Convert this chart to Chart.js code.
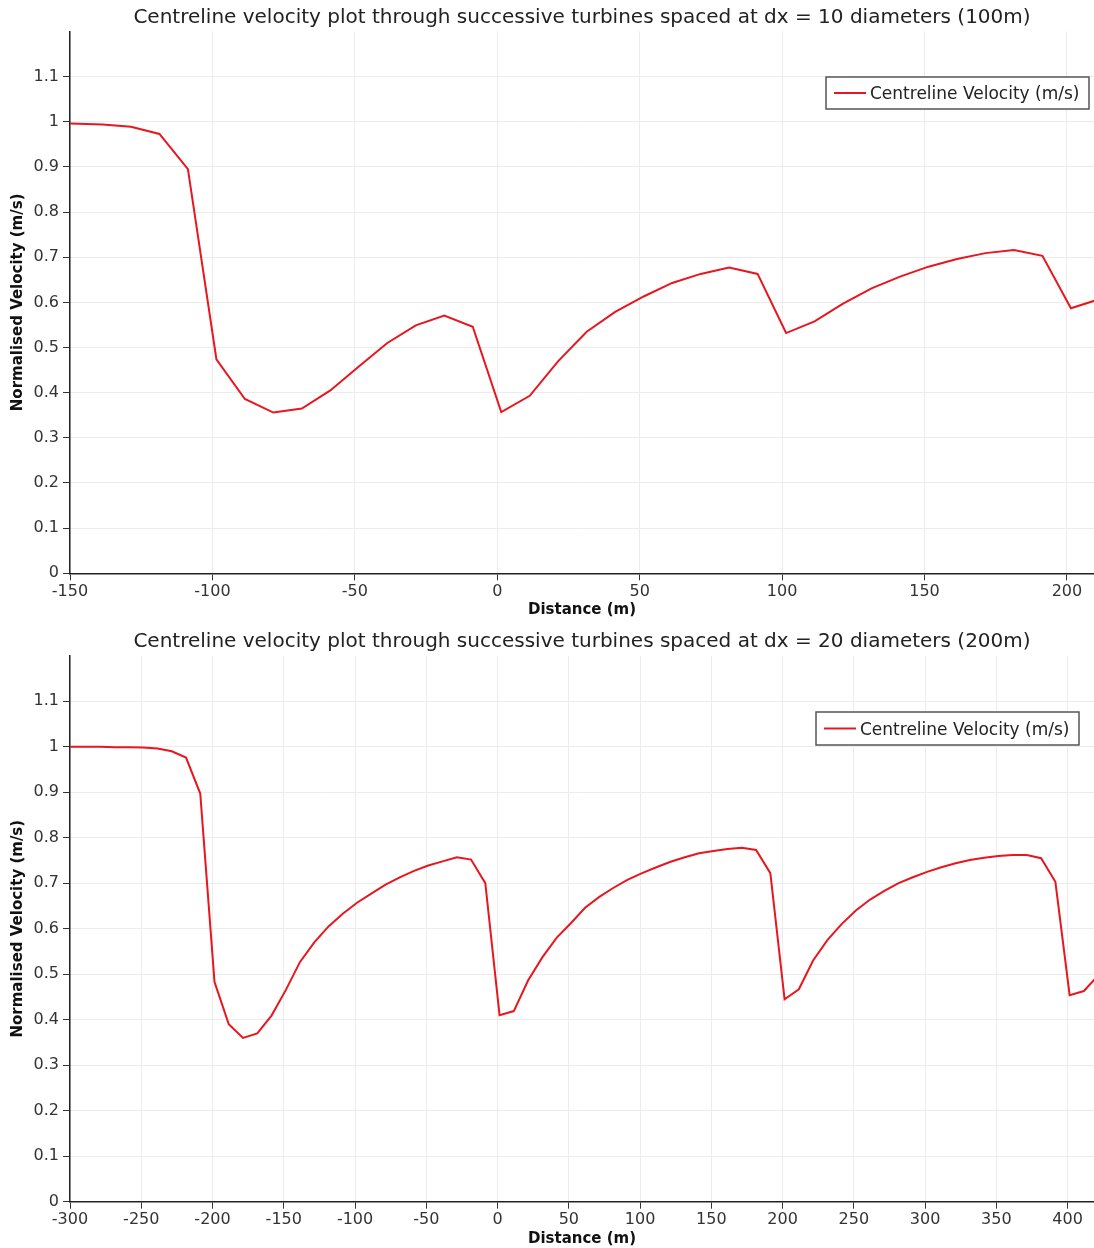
<!DOCTYPE html>
<html>
<head>
<meta charset="utf-8">
<script src="https://cdn.jsdelivr.net/npm/chart.js@4"></script>
<style>
  html, body { margin: 0; padding: 0; background: #fff; }
  .plot { width: 1094px; height: 624px; }
</style>
</head>
<body>
<div class="plot"><canvas id="chart10" width="1094" height="624"></canvas></div>
<div class="plot"><canvas id="chart20" width="1094" height="624"></canvas></div>
<script>
// spacing 10 diameters (100m)
const distance10 = [-150, -138.6, -128.6, -118.6, -108.6, -98.6, -88.6, -78.6, -68.6, -58.6,
  -48.6, -38.6, -28.6, -18.6, -8.6, 1.4, 11.4, 21.4, 31.4, 41.4,
  51.4, 61.4, 71.4, 81.4, 91.4, 101.4, 111.4, 121.4, 131.4, 141.4,
  151.4, 161.4, 171.4, 181.4, 191.4, 201.4, 211.4];
const velocity10 = [0.996, 0.994, 0.989, 0.973, 0.895, 0.474, 0.386, 0.356, 0.365, 0.405,
  0.458, 0.510, 0.549, 0.571, 0.546, 0.357, 0.393, 0.470, 0.535, 0.579,
  0.613, 0.643, 0.663, 0.677, 0.663, 0.532, 0.558, 0.597, 0.631, 0.657,
  0.679, 0.696, 0.709, 0.716, 0.703, 0.587, 0.607];

// spacing 20 diameters (200m)
const distance20 = [-300, -288.6, -278.6, -268.6, -258.6, -248.6, -238.6, -228.6, -218.6, -208.6,
  -198.6, -188.6, -178.6, -168.6, -158.6, -148.6, -138.6, -128.6, -118.6, -108.6,
  -98.6, -88.6, -78.6, -68.6, -58.6, -48.6, -38.6, -28.6, -18.6, -8.6,
  1.4, 11.4, 21.4, 31.4, 41.4, 51.4, 61.4, 71.4, 81.4, 91.4,
  101.4, 111.4, 121.4, 131.4, 141.4, 151.4, 161.4, 171.4, 181.4, 191.4,
  201.4, 211.4, 221.4, 231.4, 241.4, 251.4, 261.4, 271.4, 281.4, 291.4,
  301.4, 311.4, 321.4, 331.4, 341.4, 351.4, 361.4, 371.4, 381.4, 391.4,
  401.4, 411.4, 421.4];
const velocity20 = [1.000, 1.000, 1.000, 0.999, 0.999, 0.998, 0.996, 0.990, 0.976, 0.897,
  0.483, 0.390, 0.360, 0.370, 0.409, 0.465, 0.527, 0.570, 0.605, 0.633,
  0.657, 0.677, 0.697, 0.713, 0.727, 0.739, 0.748, 0.757, 0.752, 0.700,
  0.410, 0.419, 0.486, 0.537, 0.580, 0.612, 0.646, 0.670, 0.690, 0.708,
  0.722, 0.735, 0.747, 0.757, 0.766, 0.771, 0.775, 0.778, 0.773, 0.722,
  0.445, 0.467, 0.530, 0.575, 0.610, 0.640, 0.664, 0.683, 0.700, 0.713,
  0.725, 0.735, 0.744, 0.751, 0.756, 0.760, 0.762, 0.762, 0.755, 0.703,
  0.454, 0.463, 0.497];

const seriesLabel = 'Centreline Velocity (m/s)';
const title10 = 'Centreline velocity plot through successive turbines spaced at dx = 10 diameters (100m)';
const title20 = 'Centreline velocity plot through successive turbines spaced at dx = 20 diameters (200m)';
const xTitle = 'Distance (m)';
const yTitle = 'Normalised Velocity (m/s)';

Chart.defaults.font.family = "'DejaVu Sans', sans-serif";
Chart.defaults.color = '#333';

// legend drawn as a framed box inside the plot, like the original
const boxLegend = {
  id: 'boxLegend',
  afterDraw(chart, args, opts) {
    const ctx = chart.ctx;
    const ds = chart.data.datasets[0];
    const midY = opts.top + opts.height / 2;
    ctx.save();
    ctx.fillStyle = '#fff';
    ctx.fillRect(opts.left, opts.top, opts.width, opts.height);
    ctx.strokeStyle = '#555';
    ctx.lineWidth = 1.5;
    ctx.strokeRect(opts.left, opts.top, opts.width, opts.height);
    ctx.strokeStyle = ds.borderColor;
    ctx.lineWidth = 2;
    ctx.beginPath();
    ctx.moveTo(opts.left + 8, midY);
    ctx.lineTo(opts.left + 40, midY);
    ctx.stroke();
    ctx.fillStyle = '#222';
    ctx.font = "17px 'DejaVu Sans', sans-serif";
    ctx.textBaseline = 'middle';
    ctx.fillText(ds.label, opts.left + 44, midY + 2);
    ctx.restore();
  }
};

function makeChart(id, xs, ys, title, cfg) {
  const points = xs.map((x, i) => ({ x: x, y: ys[i] }));
  return new Chart(document.getElementById(id), {
    type: 'line',
    data: {
      datasets: [{
        label: seriesLabel,
        data: points,
        borderColor: '#e8161e',
        borderWidth: 2,
        pointRadius: 0,
        tension: 0,
        fill: false
      }]
    },
    options: {
      responsive: false,
      animation: false,
      layout: { padding: 0 },
      plugins: {
        legend: { display: false },
        tooltip: { enabled: false },
        title: {
          display: true,
          text: title,
          fullSize: false,
          color: '#222',
          font: { size: 20, weight: 'normal' },
          padding: { top: 6, bottom: cfg.titlePadBottom }
        },
        boxLegend: cfg.legend
      },
      scales: {
        x: {
          type: 'linear',
          min: cfg.xMin,
          max: cfg.xMax,
          afterFit: s => { s.height = cfg.xAxisHeight; },
          ticks: { stepSize: cfg.xStep, includeBounds: false, padding: 2, color: '#333', font: { size: 16 } },
          grid: { color: '#ececec', tickColor: '#333', tickLength: 7 },
          border: { color: '#222', width: 1.5 },
          title: { display: true, text: xTitle, color: '#111', font: { size: 15, weight: 'bold' }, padding: { top: 0, bottom: cfg.xTitlePad } }
        },
        y: {
          min: 0,
          max: 1.2,
          afterFit: s => { s.width = 70; },
          ticks: {
            stepSize: 0.1,
            padding: 4,
            color: '#333',
            font: { size: 16 },
            callback: v => v > 1.15 ? '' : String(Math.round(v * 10) / 10)
          },
          grid: {
            color: c => (c.tick && c.tick.value > 1.15) ? 'rgba(0,0,0,0)' : '#ececec',
            tickColor: c => (c.tick && c.tick.value > 1.15) ? 'rgba(0,0,0,0)' : '#333',
            tickLength: 7
          },
          border: { color: '#222', width: 1.5 },
          title: { display: true, text: yTitle, color: '#111', font: { size: 15, weight: 'bold' }, padding: { top: 9, bottom: 0 } }
        }
      }
    },
    plugins: [boxLegend]
  });
}

makeChart('chart10', distance10, velocity10, title10, {
  xMin: -150, xMax: 209.5, xStep: 50, xAxisHeight: 50.7, titlePadBottom: 1.4, xTitlePad: 5,
  legend: { left: 826, top: 77, width: 263, height: 32 }
});

makeChart('chart20', distance20, velocity20, title20, {
  xMin: -300, xMax: 418.5, xStep: 50, xAxisHeight: 46.3, titlePadBottom: 1.7, xTitlePad: 0,
  legend: { left: 816, top: 88, width: 263, height: 33 }
});
</script>
</body>
</html>
